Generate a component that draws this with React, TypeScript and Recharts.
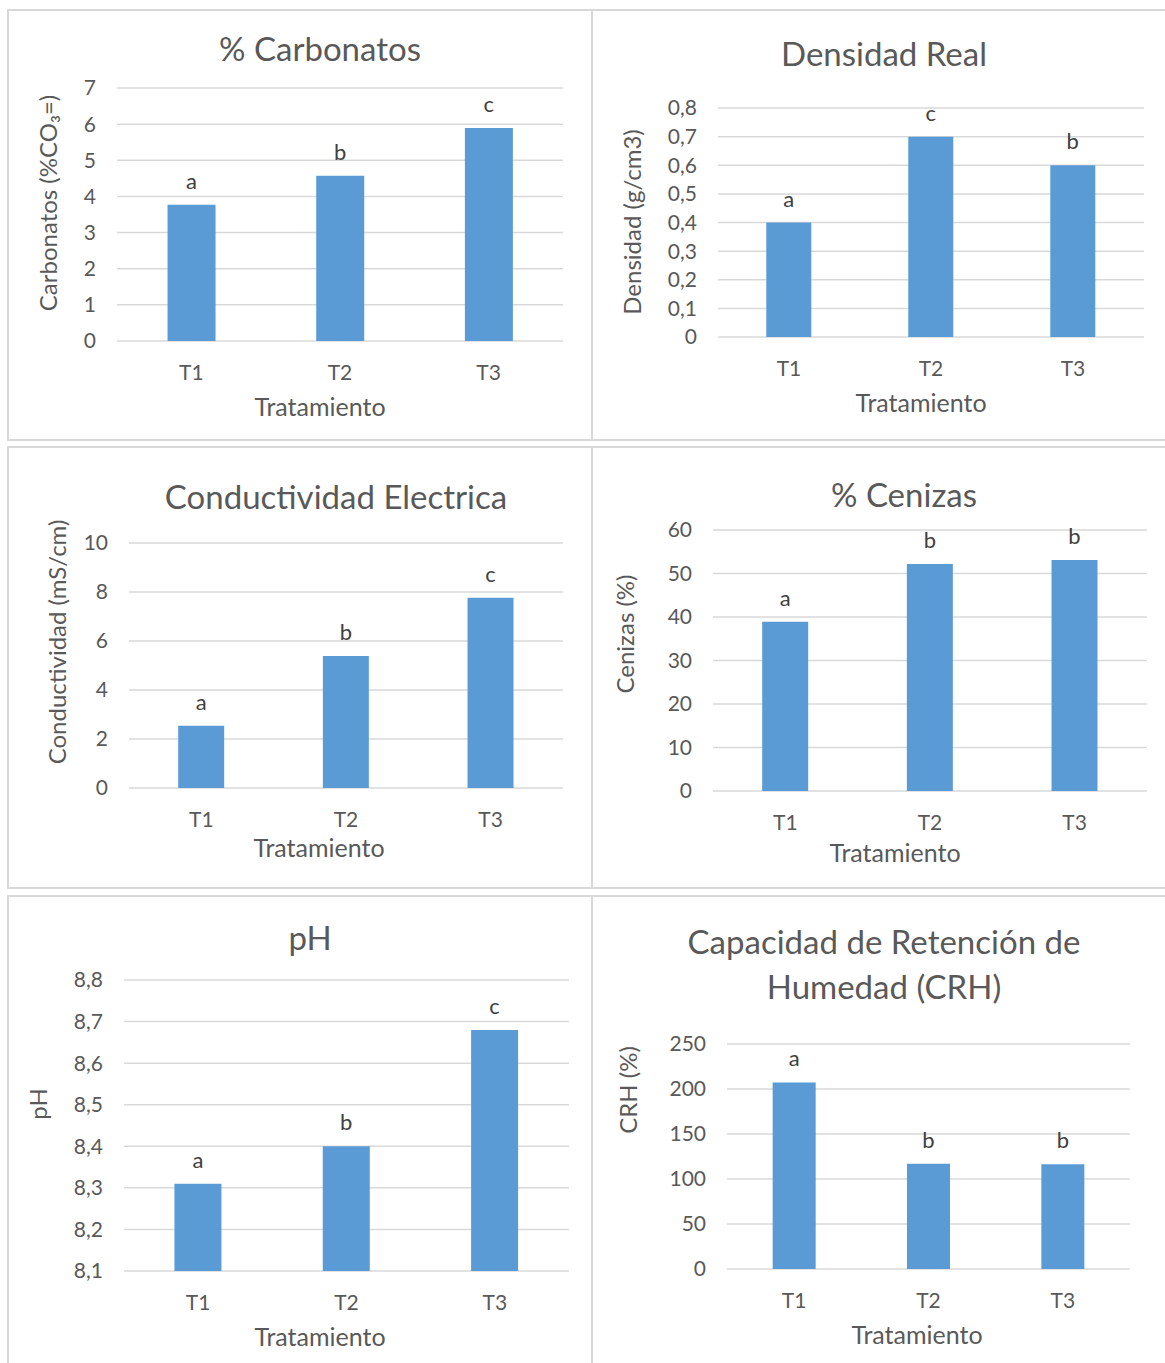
import React from 'react';
import { Bar, BarChart, CartesianGrid, LabelList, XAxis, YAxis } from 'recharts';

const treatments = ['T1', 'T2', 'T3'];

const carbonatos = [3.77, 4.57, 5.89];
const carbonatosLetters = ['a', 'b', 'c'];
const carbonatosTicks = [0, 1, 2, 3, 4, 5, 6, 7];

const densidad = [0.4, 0.7, 0.6];
const densidadLetters = ['a', 'c', 'b'];
const densidadTicks = [0, 0.1, 0.2, 0.3, 0.4, 0.5, 0.6, 0.7, 0.8];

const conductividad = [2.54, 5.39, 7.77];
const conductividadLetters = ['a', 'b', 'c'];
const conductividadTicks = [0, 2, 4, 6, 8, 10];

const cenizas = [38.9, 52.2, 53.1];
const cenizasLetters = ['a', 'b', 'b'];
const cenizasTicks = [0, 10, 20, 30, 40, 50, 60];

const ph = [8.31, 8.4, 8.68];
const phLetters = ['a', 'b', 'c'];
const phTicks = [8.1, 8.2, 8.3, 8.4, 8.5, 8.6, 8.7, 8.8];

const crh = [207.3, 117.0, 116.3];
const crhLetters = ['a', 'b', 'b'];
const crhTicks = [0, 50, 100, 150, 200, 250];

const FONT = 'Lato, "Open Sans", sans-serif';
const TEXT = '#595959';
const BAR = '#5B9BD5';
const GRID = '#D9D9D9';

// decimal comma, as in the Spanish locale
const comma = (v: number) => String(v).replace('.', ',');

type Box = { x: number; y: number; w: number; h: number };
type Plot = { x0: number; x1: number; y0: number; y1: number };

interface PanelProps {
  box: Box;
  plot: Plot;
  values: number[];
  letters: string[];
  ticks: number[];
  title: string[];
  titleAt: [number, number];
  yLabel: string;
  yLabelAt: [number, number];
  xLabelAt: [number, number];
}

const X_AXIS_H = 40;

function Panel({ box, plot, values, letters, ticks, title, titleAt, yLabel, yLabelAt, xLabelAt }: PanelProps) {
  const data = treatments.map((t, i) => ({ name: t, value: values[i], letter: letters[i] }));
  const margin = {
    top: plot.y0 - box.y,
    right: box.x + box.w - plot.x1,
    bottom: box.y + box.h - plot.y1 - X_AXIS_H,
    left: 0,
  };
  const tick = { fontSize: 21, fill: TEXT, fontFamily: FONT };

  return (
    <>
      <div
        style={{
          position: 'absolute',
          left: box.x,
          top: box.y,
          width: box.w,
          height: box.h,
          boxSizing: 'border-box',
          border: `2px solid ${GRID}`,
        }}
      />
      <div style={{ position: 'absolute', left: box.x, top: box.y }}>
        <BarChart width={box.w} height={box.h} data={data} margin={margin} barCategoryGap="34%">
          <CartesianGrid vertical={false} stroke={GRID} strokeWidth={1.5} />
          <XAxis
            dataKey="name"
            height={X_AXIS_H}
            axisLine={false}
            tickLine={false}
            tickSize={0}
            tickMargin={24}
            tick={tick}
          />
          <YAxis
            width={plot.x0 - box.x}
            domain={[ticks[0], ticks[ticks.length - 1]]}
            ticks={ticks}
            interval={0}
            axisLine={false}
            tickLine={false}
            tickSize={0}
            tickMargin={21}
            tick={tick}
            tickFormatter={comma}
          />
          <Bar dataKey="value" fill={BAR} isAnimationActive={false}>
            <LabelList dataKey="letter" position="top" offset={16} fill="#404040" fontSize={22} fontFamily={FONT} />
          </Bar>
        </BarChart>
      </div>
      <div
        style={{
          position: 'absolute',
          left: titleAt[0],
          top: titleAt[1],
          transform: 'translate(-50%, -50%)',
          fontFamily: FONT,
          fontSize: 33,
          lineHeight: '45px',
          color: TEXT,
          textAlign: 'center',
          whiteSpace: 'nowrap',
        }}
      >
        {title.map((line) => (
          <div key={line}>{line}</div>
        ))}
      </div>
      <div
        style={{
          position: 'absolute',
          left: xLabelAt[0],
          top: xLabelAt[1],
          transform: 'translate(-50%, -50%)',
          fontFamily: FONT,
          fontSize: 25,
          lineHeight: 1,
          color: TEXT,
          whiteSpace: 'nowrap',
        }}
      >
        Tratamiento
      </div>
      <div
        style={{
          position: 'absolute',
          left: yLabelAt[0],
          top: yLabelAt[1],
          transform: 'translate(-50%, -50%) rotate(-90deg)',
          fontFamily: FONT,
          fontSize: 24,
          lineHeight: 1,
          color: TEXT,
          whiteSpace: 'nowrap',
        }}
      >
        {yLabel}
      </div>
    </>
  );
}

export default function App() {
  return (
    <div
      style={{
        position: 'absolute',
        left: 0,
        top: 0,
        width: 1165,
        height: 1363,
        overflow: 'hidden',
        background: '#fff',
      }}
    >
      <Panel
        box={{ x: 7, y: 9, w: 586, h: 432 }}
        plot={{ x0: 117, x1: 563, y0: 88, y1: 341 }}
        values={carbonatos}
        letters={carbonatosLetters}
        ticks={carbonatosTicks}
        title={['% Carbonatos']}
        titleAt={[320, 48]}
        yLabel="Carbonatos (%CO₃=)"
        yLabelAt={[48, 203]}
        xLabelAt={[320, 406]}
      />
      <Panel
        box={{ x: 591, y: 9, w: 580, h: 432 }}
        plot={{ x0: 718, x1: 1144, y0: 108, y1: 337 }}
        values={densidad}
        letters={densidadLetters}
        ticks={densidadTicks}
        title={['Densidad Real']}
        titleAt={[884, 53]}
        yLabel="Densidad (g/cm3)"
        yLabelAt={[632, 222]}
        xLabelAt={[921, 402]}
      />
      <Panel
        box={{ x: 7, y: 446, w: 586, h: 443 }}
        plot={{ x0: 129, x1: 563, y0: 543, y1: 788 }}
        values={conductividad}
        letters={conductividadLetters}
        ticks={conductividadTicks}
        title={['Conductividad Electrica']}
        titleAt={[336, 496]}
        yLabel="Conductividad (mS/cm)"
        yLabelAt={[57, 642]}
        xLabelAt={[319, 847]}
      />
      <Panel
        box={{ x: 591, y: 446, w: 580, h: 443 }}
        plot={{ x0: 713, x1: 1147, y0: 530, y1: 791 }}
        values={cenizas}
        letters={cenizasLetters}
        ticks={cenizasTicks}
        title={['% Cenizas']}
        titleAt={[904, 494]}
        yLabel="Cenizas (%)"
        yLabelAt={[625, 634]}
        xLabelAt={[895, 852]}
      />
      <Panel
        box={{ x: 7, y: 895, w: 586, h: 480 }}
        plot={{ x0: 124, x1: 569, y0: 980, y1: 1271 }}
        values={ph}
        letters={phLetters}
        ticks={phTicks}
        title={['pH']}
        titleAt={[310, 937]}
        yLabel="pH"
        yLabelAt={[38, 1104]}
        xLabelAt={[320, 1336]}
      />
      <Panel
        box={{ x: 591, y: 895, w: 580, h: 480 }}
        plot={{ x0: 727, x1: 1130, y0: 1044, y1: 1269 }}
        values={crh}
        letters={crhLetters}
        ticks={crhTicks}
        title={['Capacidad de Retención de', 'Humedad (CRH)']}
        titleAt={[884, 964]}
        yLabel="CRH (%)"
        yLabelAt={[628, 1090]}
        xLabelAt={[917, 1334]}
      />
    </div>
  );
}
